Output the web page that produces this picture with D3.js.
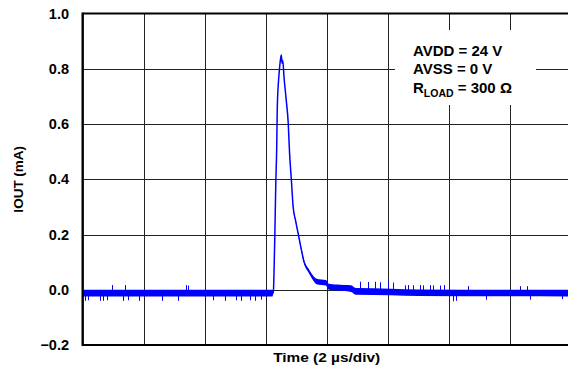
<!DOCTYPE html>
<html>
<head>
<meta charset="utf-8">
<script src="https://cdn.jsdelivr.net/npm/d3@7"></script>
<style>
  body { margin: 0; background: #fff; }
  svg { display: block; font-family: "Liberation Sans", Arial, sans-serif; font-weight: bold; }
</style>
</head>
<body>
<div id="chart"></div>
<script>
var width = 568;
var height = 370;

// waveform (time in us, current in mA)
var traceTime = [0, 6.22, 6.25, 6.27, 6.30, 6.33, 6.36, 6.38, 6.43, 6.47, 6.51, 6.54, 6.56, 6.60, 6.67, 6.74, 6.78, 6.84, 6.90, 6.98, 7.07, 7.16, 7.26, 7.40, 7.51, 7.67, 7.98, 8.05, 8.34, 8.80, 8.95, 10.1, 11.0, 16];
var traceCurrent = [-0.012, -0.012, -0.01, 0.05, 0.20, 0.38, 0.51, 0.66, 0.77, 0.82, 0.85, 0.82, 0.83, 0.77, 0.69, 0.60, 0.50, 0.40, 0.30, 0.25, 0.20, 0.15, 0.10, 0.07, 0.05, 0.03, 0.025, 0.012, 0.008, 0.004, -0.006, -0.008, -0.011, -0.012];
// half thickness of the noisy band around the trace
var traceNoise = [0.012, 0.012, 0.004, 0.002, 0.002, 0.002, 0.002, 0.002, 0.002, 0.002, 0.002, 0.002, 0.002, 0.002, 0.002, 0.002, 0.002, 0.002, 0.003, 0.003, 0.004, 0.005, 0.006, 0.007, 0.008, 0.010, 0.010, 0.011, 0.011, 0.012, 0.012, 0.012, 0.012, 0.012];

// single noise spikes sticking out of the band
var spikeTime = [0.08, 0.17, 0.57, 0.67, 0.80, 0.96, 1.32, 1.39, 1.49, 1.85, 2.60, 3.13, 3.39, 3.45, 4.28, 4.67, 5.03, 5.20, 5.49, 5.65, 5.84,
  9.09, 9.35, 9.58, 9.74, 10.0, 10.18, 10.57, 10.67, 10.83, 11.06, 11.16, 11.39, 11.49, 11.72, 11.85, 12.14, 12.24, 12.63, 13.22, 14.34, 14.57, 14.67, 15.72];
var spikeCurrent = [-0.040, -0.038, -0.040, -0.040, -0.038, 0.017, -0.040, 0.017, -0.038, -0.040, -0.040, -0.040, 0.017, 0.015, -0.038, -0.040, -0.038, -0.040, -0.038, -0.040, -0.036,
  0.029, 0.028, 0.029, 0.027, 0.028, 0.026, 0.016, 0.017, 0.016, 0.017, 0.016, 0.017, 0.016, 0.015, 0.017, -0.042, -0.040, 0.013, -0.036, 0.013, 0.013, -0.036, -0.034];

var yTicks = [-0.2, 0.0, 0.2, 0.4, 0.6, 0.8, 1.0];
var xGrid = [2, 4, 6, 8, 10, 12, 14];
var legendLines = ["AVDD = 24 V", "AVSS = 0 V"];

var xScale = d3.scaleLinear().domain([0, 16]).range([82.7, 570.7]);
var yScale = d3.scaleLinear().domain([-0.2, 1.0]).range([345, 13.5]);

var svg = d3.select("#chart")
  .append("svg")
  .attr("width", width)
  .attr("height", height);

// grid
svg.append("g")
  .selectAll("line")
  .data(xGrid)
  .enter()
  .append("line")
  .attr("x1", d => Math.round(xScale(d)) + 0.5)
  .attr("x2", d => Math.round(xScale(d)) + 0.5)
  .attr("y1", yScale(1.0))
  .attr("y2", yScale(-0.2))
  .attr("stroke", "#222")
  .attr("stroke-width", 1);

svg.append("g")
  .selectAll("line")
  .data(yTicks.slice(1, -1))
  .enter()
  .append("line")
  .attr("x1", xScale(0))
  .attr("x2", width)
  .attr("y1", d => Math.round(yScale(d)) + 0.5)
  .attr("y2", d => Math.round(yScale(d)) + 0.5)
  .attr("stroke", "#222")
  .attr("stroke-width", 1);

// legend box hides the grid behind it
svg.append("rect")
  .attr("x", 395)
  .attr("y", 30)
  .attr("width", 141)
  .attr("height", 75)
  .attr("fill", "#fff");

var legend = svg.append("g").attr("font-size", "15px").attr("fill", "#000");
legend.selectAll("text.line")
  .data(legendLines)
  .enter()
  .append("text")
  .attr("class", "line")
  .attr("x", 413)
  .attr("y", (d, i) => 56 + i * 18.3)
  .text(d => d);
var rl = legend.append("text").attr("x", 413).attr("y", 92.6);
rl.append("tspan").text("R");
rl.append("tspan").attr("font-size", "10.5px").attr("dy", 4).text("LOAD");
rl.append("tspan").attr("dy", -4).text(" = 300 \u03A9");

// trace
var trace = traceTime.map((t, i) => ({ t: t, v: traceCurrent[i], n: traceNoise[i] }));

svg.append("path")
  .datum(trace)
  .attr("fill", "#0000ff")
  .attr("d", d3.area()
    .curve(d3.curveMonotoneX)
    .x(d => xScale(d.t))
    .y0(d => yScale(d.v - d.n))
    .y1(d => yScale(d.v + d.n)));

svg.append("path")
  .datum(trace)
  .attr("fill", "none")
  .attr("stroke", "#0000ff")
  .attr("stroke-width", 1.5)
  .attr("d", d3.line().curve(d3.curveMonotoneX).x(d => xScale(d.t)).y(d => yScale(d.v)));

svg.append("g")
  .selectAll("line")
  .data(spikeTime)
  .enter()
  .append("line")
  .attr("x1", d => Math.round(xScale(d)) + 0.5)
  .attr("x2", d => Math.round(xScale(d)) + 0.5)
  .attr("y1", yScale(-0.012))
  .attr("y2", (d, i) => yScale(spikeCurrent[i]))
  .attr("stroke", "#0000ff")
  .attr("stroke-width", 1);

// frame
svg.append("line")
  .attr("x1", xScale(0)).attr("x2", xScale(0))
  .attr("y1", yScale(1.0) - 1).attr("y2", yScale(-0.2) + 1)
  .attr("stroke", "#000").attr("stroke-width", 2.4);
svg.append("line")
  .attr("x1", xScale(0)).attr("x2", width)
  .attr("y1", yScale(1.0)).attr("y2", yScale(1.0))
  .attr("stroke", "#000").attr("stroke-width", 2);
svg.append("line")
  .attr("x1", xScale(0)).attr("x2", width)
  .attr("y1", yScale(-0.2)).attr("y2", yScale(-0.2))
  .attr("stroke", "#000").attr("stroke-width", 2);

// y labels
svg.append("g")
  .selectAll("text")
  .data(yTicks)
  .enter()
  .append("text")
  .attr("x", 69)
  .attr("y", d => yScale(d))
  .attr("dy", "0.35em")
  .attr("text-anchor", "end")
  .attr("font-size", "14.5px")
  .text(d => d3.format(".1f")(d));

svg.append("text")
  .attr("transform", "translate(23," + (yScale(1.0) + yScale(-0.2)) / 2 + ") rotate(-90)")
  .attr("text-anchor", "middle")
  .attr("font-size", "13.5px")
  .text("IOUT (mA)");

svg.append("text")
  .attr("x", (xScale(0) + xScale(16)) / 2)
  .attr("y", 362)
  .attr("text-anchor", "middle")
  .attr("font-size", "13px")
  .attr("textLength", 107)
  .attr("lengthAdjust", "spacingAndGlyphs")
  .text("Time (2 \u00B5s/div)");
</script>
</body>
</html>
